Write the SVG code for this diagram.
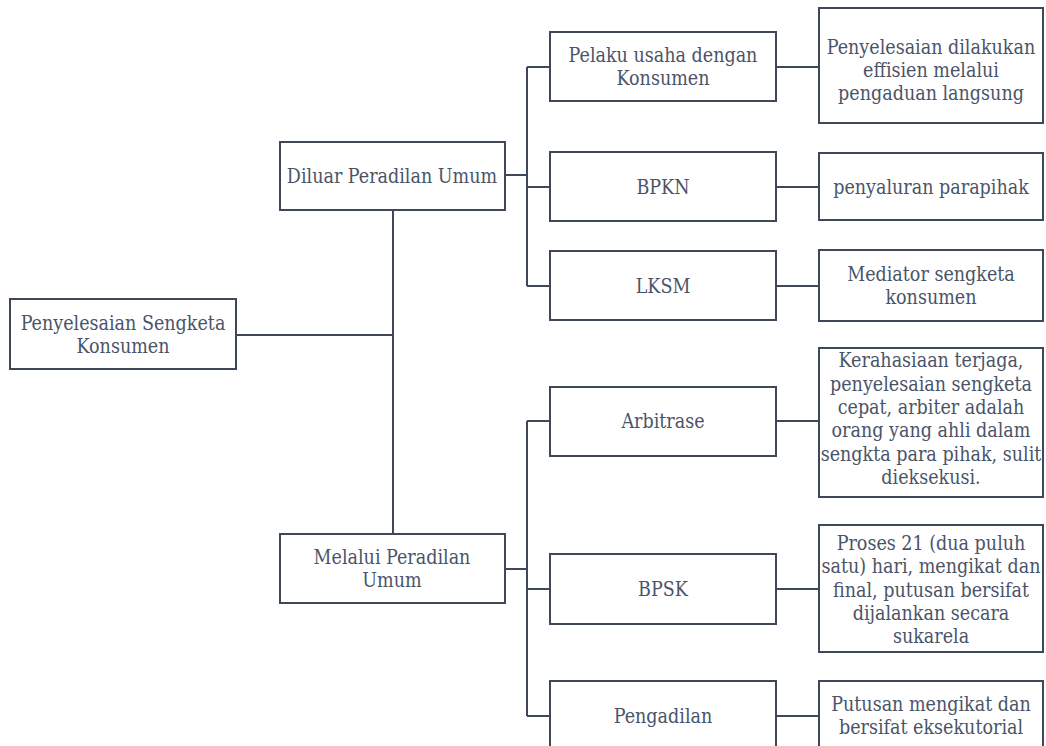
<svg xmlns="http://www.w3.org/2000/svg" width="1046" height="746" viewBox="0 0 1046 746">
<style>
.box{fill:#ffffff;stroke:#3e4859;stroke-width:2}
.ln{fill:none;stroke:#3e4859;stroke-width:2}
.t text{font-family:'DejaVu Serif Condensed','DejaVu Serif','Liberation Serif',serif;font-stretch:condensed;font-size:19.5px;fill:#4a5468;text-anchor:middle}
</style>
<rect width="1046" height="746" fill="#ffffff"/>
<g id="connectors">
<path class="ln" d="M236 335H393M393 210V534"/>
<path class="ln" d="M505 175H527M527 67V286M527 67H550M527 187H550M527 286H550"/>
<path class="ln" d="M505 569H527M527 421V716M527 421H550M527 589H550M527 716H550"/>
<path class="ln" d="M776 67H819M776 187H819M776 286H819M776 421H819M776 589H819M776 716H819"/>
</g>
<g class="t">
<g id="root"><rect class="box" x="10" y="299" width="226" height="70"/><text x="123" y="330">Penyelesaian Sengketa</text><text x="123" y="353">Konsumen</text></g>
<g id="diluar"><rect class="box" x="280" y="142" width="225" height="68"/><text x="392" y="183">Diluar Peradilan Umum</text></g>
<g id="melalui"><rect class="box" x="280" y="534" width="225" height="69"/><text x="392" y="564">Melalui Peradilan</text><text x="392" y="587">Umum</text></g>
<g id="pelaku"><rect class="box" x="550" y="32" width="226" height="69"/><text x="663" y="62">Pelaku usaha dengan</text><text x="663" y="85">Konsumen</text></g>
<g id="bpkn"><rect class="box" x="550" y="152" width="226" height="69"/><text x="663" y="194">BPKN</text></g>
<g id="lksm"><rect class="box" x="550" y="251" width="226" height="69"/><text x="663" y="293">LKSM</text></g>
<g id="arbitrase"><rect class="box" x="550" y="387" width="226" height="69"/><text x="663" y="428">Arbitrase</text></g>
<g id="bpsk"><rect class="box" x="550" y="554" width="226" height="70"/><text x="663" y="596">BPSK</text></g>
<g id="pengadilan"><rect class="box" x="550" y="681" width="226" height="80"/><text x="663" y="723">Pengadilan</text></g>
<g id="ket-pelaku"><rect class="box" x="819" y="8" width="224" height="115"/><text x="931" y="54">Penyelesaian dilakukan</text><text x="931" y="77">effisien melalui</text><text x="931" y="100">pengaduan langsung</text></g>
<g id="ket-bpkn"><rect class="box" x="819" y="153" width="224" height="67"/><text x="931" y="194">penyaluran parapihak</text></g>
<g id="ket-lksm"><rect class="box" x="819" y="250" width="224" height="71"/><text x="931" y="281">Mediator sengketa</text><text x="931" y="304">konsumen</text></g>
<g id="ket-arbitrase"><rect class="box" x="819" y="348" width="224" height="149"/><text x="931" y="367">Kerahasiaan terjaga,</text><text x="931" y="391">penyelesaian sengketa</text><text x="931" y="414">cepat, arbiter adalah</text><text x="931" y="437">orang yang ahli dalam</text><text x="931" y="461">sengkta para pihak, sulit</text><text x="931" y="484">dieksekusi.</text></g>
<g id="ket-bpsk"><rect class="box" x="819" y="525" width="224" height="127"/><text x="931" y="550">Proses 21 (dua puluh</text><text x="931" y="573">satu) hari, mengikat dan</text><text x="931" y="597">final, putusan bersifat</text><text x="931" y="620">dijalankan secara</text><text x="931" y="643">sukarela</text></g>
<g id="ket-pengadilan"><rect class="box" x="819" y="681" width="224" height="80"/><text x="931" y="711">Putusan mengikat dan</text><text x="931" y="734">bersifat eksekutorial</text></g>
</g>
</svg>
